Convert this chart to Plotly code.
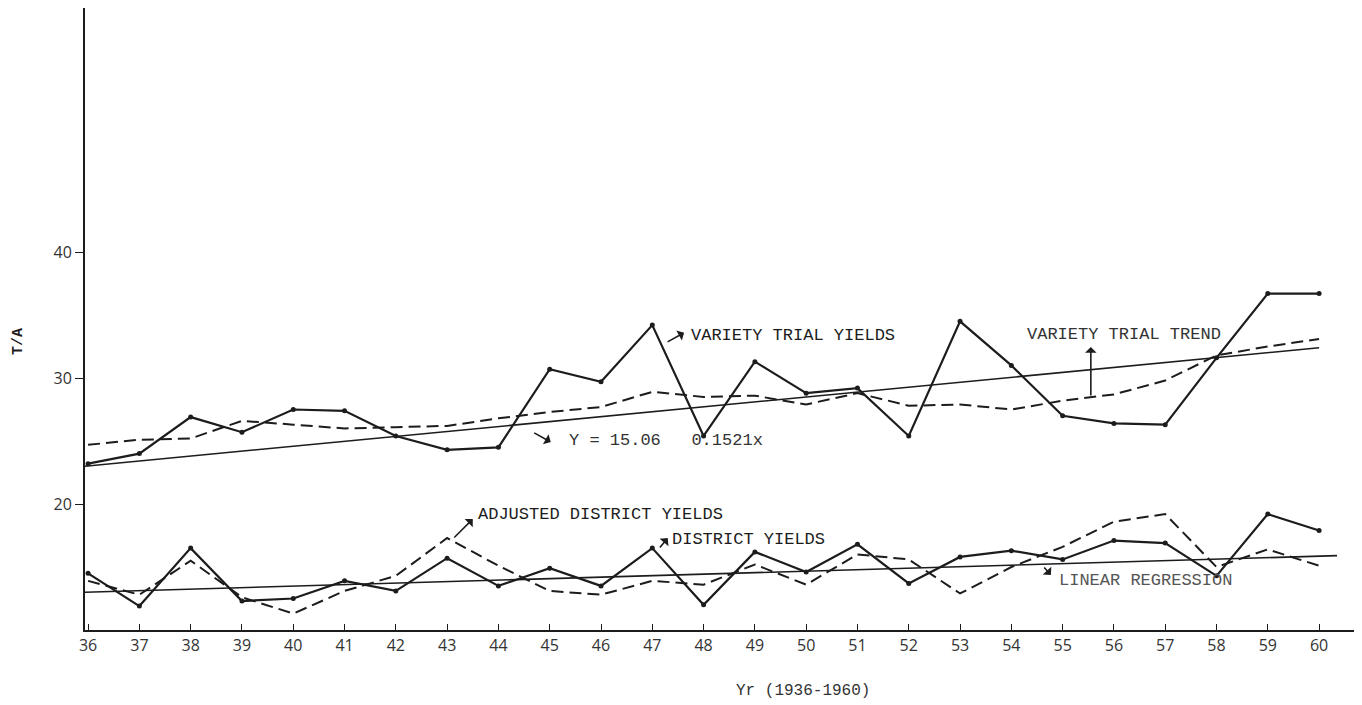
import plotly.graph_objects as go

years = list(range(36, 61))
year_labels = [str(y) for y in years]

variety_yields = [23.2, 24.0, 26.9, 25.7, 27.5, 27.4, 25.4, 24.3, 24.5, 30.7, 29.7, 34.2, 25.4,
                  31.3, 28.8, 29.2, 25.4, 34.5, 31.0, 27.0, 26.4, 26.3, 31.6, 36.7, 36.7]
variety_trend = [24.7, 25.1, 25.2, 26.6, 26.3, 26.0, 26.1, 26.2, 26.8, 27.3, 27.7, 28.9, 28.5,
                 28.6, 27.9, 28.8, 27.8, 27.9, 27.5, 28.2, 28.7, 29.8, 31.8, 32.5, 33.1]
district_yields = [14.5, 11.9, 16.5, 12.3, 12.5, 13.9, 13.1, 15.7, 13.5, 14.9, 13.5, 16.5, 12.0,
                   16.2, 14.6, 16.8, 13.7, 15.8, 16.3, 15.6, 17.1, 16.9, 14.3, 19.2, 17.9]
adjusted_district = [13.9, 12.8, 15.5, 12.6, 11.3, 13.1, 14.3, 17.3, 15.1, 13.1, 12.8, 13.9, 13.6,
                     15.2, 13.6, 16.0, 15.6, 12.9, 15.0, 16.6, 18.6, 19.2, 15.0, 16.4, 15.1]
upper_regression_x = [35.94, 60.0]
upper_regression_y = [23.0, 32.4]
lower_regression_x = [35.94, 60.35]
lower_regression_y = [13.0, 15.9]

INK = "#1c1c1c"
MONO = "Liberation Mono"

fig = go.Figure()
fig.add_trace(go.Scatter(x=upper_regression_x, y=upper_regression_y, mode="lines",
                         line=dict(color=INK, width=1.6), hoverinfo="skip"))
fig.add_trace(go.Scatter(x=lower_regression_x, y=lower_regression_y, mode="lines",
                         line=dict(color=INK, width=1.6), hoverinfo="skip"))
fig.add_trace(go.Scatter(x=years, y=variety_trend, mode="lines",
                         line=dict(color=INK, width=2, dash="12px,6px")))
fig.add_trace(go.Scatter(x=years, y=adjusted_district, mode="lines",
                         line=dict(color=INK, width=2, dash="12px,6px")))
fig.add_trace(go.Scatter(x=years, y=variety_yields, mode="lines+markers",
                         line=dict(color=INK, width=2.2), marker=dict(size=5, color=INK)))
fig.add_trace(go.Scatter(x=years, y=district_yields, mode="lines+markers",
                         line=dict(color=INK, width=2.2), marker=dict(size=5, color=INK)))

def label(x, y, text, color=INK):
    fig.add_annotation(x=x, y=y, xref="x", yref="y", text=text, showarrow=False,
                       xanchor="left", yanchor="middle",
                       font=dict(family=MONO, size=17, color=color))

def arrow(x, y, ax, ay):
    fig.add_annotation(x=x, y=y, xref="x", yref="y", text="", showarrow=True,
                       ax=ax, ay=ay, arrowhead=1, arrowsize=1.2, arrowwidth=1.6,
                       arrowcolor=INK)

label(47.72, 33.41, "VARIETY TRIAL YIELDS")
arrow(47.62, 33.6, -18, 10)
label(54.26, 33.49, "VARIETY TRIAL TREND", "#333")
arrow(55.55, 32.46, 0, 50)
label(45.34, 25.08, "Y = 15.06   0.1521x", "#333")
arrow(45.02, 24.92, -18, -10)
label(43.56, 19.13, "ADJUSTED DISTRICT YIELDS")
arrow(43.5, 18.81, -20, 20)
label(47.34, 17.22, "DISTRICT YIELDS")
arrow(47.3, 17.3, -9, 11)
label(54.89, 13.89, "LINEAR REGRESSION", "#555")
arrow(54.77, 14.37, -8, -9)

fig.add_annotation(x=-0.061, y=0.463, xref="paper", yref="paper", text="<b>T/A</b>",
                   textangle=-90, showarrow=False,
                   font=dict(family=MONO, size=15, color=INK))
fig.add_annotation(x=0.5654, y=-0.1158, xref="paper", yref="paper", text="Yr (1936-1960)",
                   showarrow=False, font=dict(family=MONO, size=16, color="#333"))

fig.update_layout(
    width=1362, height=705,
    margin=dict(l=77, r=15, t=0, b=83),
    paper_bgcolor="white", plot_bgcolor="white",
    showlegend=False,
)
fig.update_xaxes(range=[35.94, 60.7], tickvals=years, ticktext=year_labels,
                 ticks="inside", ticklen=6, tickcolor=INK, showgrid=False, zeroline=False,
                 showline=True, linecolor=INK, linewidth=2,
                 tickfont=dict(family="Open Sans", size=16, color="#333"))
fig.update_yaxes(range=[10, 59.37], tickvals=[20, 30, 40], ticktext=["20", "30", "40"],
                 ticks="outside", ticklen=8, tickcolor=INK, showgrid=False, zeroline=False,
                 showline=True, linecolor=INK, linewidth=2,
                 tickfont=dict(family="Open Sans", size=16, color="#333"))

fig.write_html("out.html")
